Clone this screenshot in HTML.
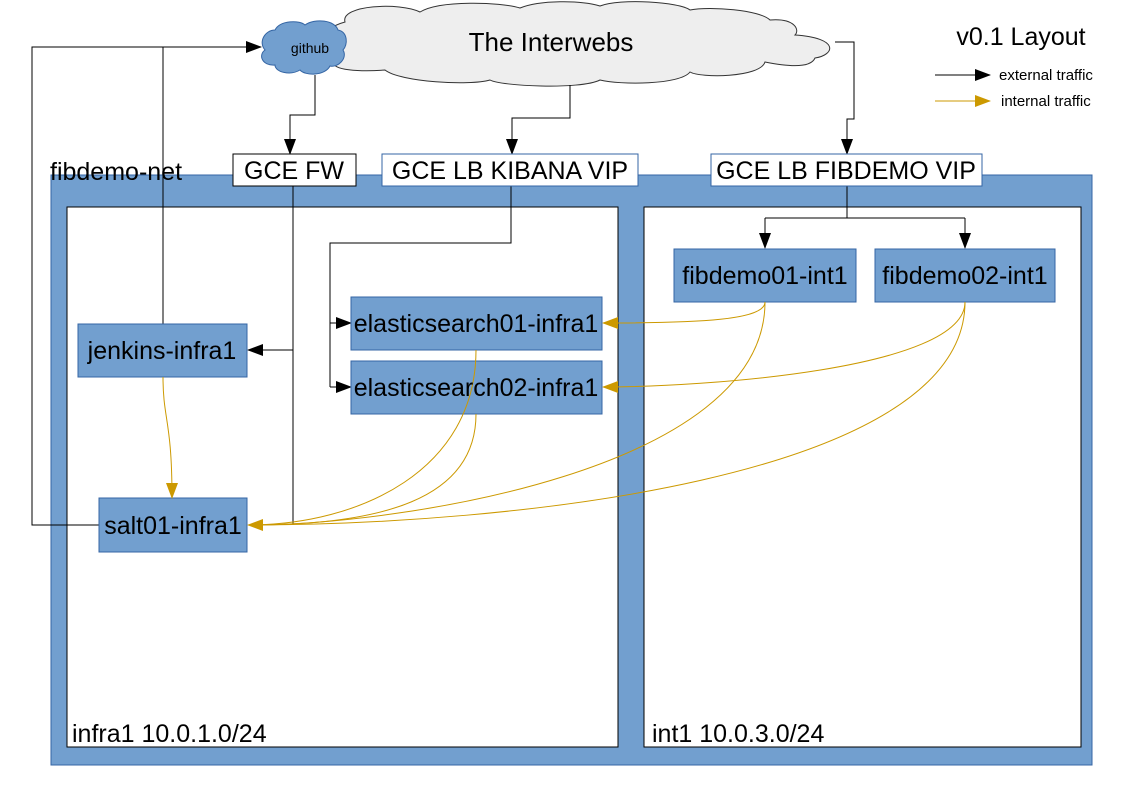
<!DOCTYPE html>
<html><head><style>body{margin:0;background:#fff}svg{display:block;font-family:"Liberation Sans",sans-serif}</style></head><body>
<svg width="1123" height="794" viewBox="0 0 1123 794" xmlns="http://www.w3.org/2000/svg">
<defs>
<marker id="ab" markerWidth="16" markerHeight="12" refX="15" refY="6" orient="auto" markerUnits="userSpaceOnUse" viewBox="0 0 16 12"><path d="M0,0 L16,6 L0,12 z" fill="#000"/></marker>
<marker id="ao" markerWidth="16" markerHeight="12" refX="15" refY="6" orient="auto" markerUnits="userSpaceOnUse" viewBox="0 0 16 12"><path d="M0,0 L16,6 L0,12 z" fill="#cc9900"/></marker>
</defs>
<rect x="51" y="175" width="1041" height="590" fill="#729fcf" stroke="#3465a4" stroke-width="1"/>
<rect x="67" y="207" width="551" height="540" fill="#fff" stroke="#000"/>
<rect x="644" y="207" width="437" height="540" fill="#fff" stroke="#000"/>
<text x="50" y="180" font-size="25">fibdemo-net</text>
<text x="72" y="742" font-size="25">infra1 10.0.1.0/24</text>
<text x="652" y="742" font-size="25">int1 10.0.3.0/24</text>
<path d="M345,22 C340,5 400,2 420,12 C440,0 500,2 520,8 C540,0 580,0 600,6 C620,-2 680,2 690,10 C710,6 760,10 770,20 C795,18 800,30 795,35 C840,38 835,55 815,58 C810,70 780,65 765,62 C760,78 700,78 690,72 C680,85 620,85 600,80 C580,90 500,86 490,80 C470,86 400,82 385,70 C360,72 330,70 335,62 C310,55 315,30 345,22 z" fill="#eeeeee" stroke="#333" stroke-width="1"/>
<text x="551" y="51" font-size="26" text-anchor="middle">The Interwebs</text>
<path d="M275,30 C280,20 300,20 305,25 C315,18 335,20 338,30 C348,32 348,45 343,50 C348,58 338,68 330,66 C325,76 305,76 300,70 C290,76 275,72 275,65 C262,66 258,55 265,50 C258,42 265,30 275,30 z" fill="#729fcf" stroke="#3465a4" stroke-width="1"/>
<text x="310" y="53" font-size="14" text-anchor="middle">github</text>
<text x="1021" y="45" font-size="25" text-anchor="middle">v0.1 Layout</text>
<line x1="935" y1="75" x2="990" y2="75" stroke="#000" marker-end="url(#ab)"/>
<text x="999" y="80" font-size="15">external traffic</text>
<line x1="935" y1="101" x2="990" y2="101" stroke="#cc9900" marker-end="url(#ao)"/>
<text x="1001" y="106" font-size="15">internal traffic</text>
<g fill="none" stroke="#000" stroke-width="1">
<polyline points="99,525 32,525 32,47 261,47" marker-end="url(#ab)"/>
<polyline points="163,324 163,47"/>
<polyline points="315,75 315,115 290,115 290,154" marker-end="url(#ab)"/>
<polyline points="570,85 570,118 512,118 512,154" marker-end="url(#ab)"/>
<polyline points="835,42 854,42 854,119 847,119 847,154" marker-end="url(#ab)"/>
<polyline points="293,186 293,525"/>
<polyline points="293,350 248,350" marker-end="url(#ab)"/>
<polyline points="511,186 511,243 330,243 330,387"/>
<polyline points="330,323 351,323" marker-end="url(#ab)"/>
<polyline points="330,387 351,387" marker-end="url(#ab)"/>
<polyline points="847,186 847,218"/>
<polyline points="765,218 965,218"/>
<polyline points="765,218 765,248" marker-end="url(#ab)"/>
<polyline points="965,218 965,248" marker-end="url(#ab)"/>
</g>
<g stroke-width="1">
<rect x="233" y="154" width="123" height="32" fill="#fff" stroke="#000"/>
<rect x="382" y="154" width="256" height="32" fill="#fff" stroke="#3465a4"/>
<rect x="711" y="154" width="271" height="32" fill="#fff" stroke="#3465a4"/>
<rect x="78" y="324" width="169" height="53" fill="#729fcf" stroke="#3465a4"/>
<rect x="99" y="498" width="148" height="54" fill="#729fcf" stroke="#3465a4"/>
<rect x="351" y="297" width="251" height="53" fill="#729fcf" stroke="#3465a4"/>
<rect x="351" y="361" width="251" height="53" fill="#729fcf" stroke="#3465a4"/>
<rect x="674" y="249" width="182" height="53" fill="#729fcf" stroke="#3465a4"/>
<rect x="875" y="249" width="180" height="53" fill="#729fcf" stroke="#3465a4"/>
</g>
<g fill="none" stroke="#cc9900" stroke-width="1">
<path d="M163,377 C163,420 172,420 172,498" marker-end="url(#ao)"/>
<path d="M765,302 C765,320 700,323 603,323" marker-end="url(#ao)"/>
<path d="M965,302 C965,370 700,387 603,387" marker-end="url(#ao)"/>
<path d="M476,350 C476,470 360,525 248,525" marker-end="url(#ao)"/>
<path d="M476,414 C476,500 380,525 249,525"/>
<path d="M765,302 C765,470 400,525 249,525"/>
<path d="M965,302 C965,480 500,525 249,525"/>
</g>
<g font-size="25" text-anchor="middle">
<text x="294" y="179">GCE FW</text>
<text x="510" y="179">GCE LB KIBANA VIP</text>
<text x="846" y="179">GCE LB FIBDEMO VIP</text>
<text x="162" y="359">jenkins-infra1</text>
<text x="173" y="534">salt01-infra1</text>
<text x="476" y="332">elasticsearch01-infra1</text>
<text x="476" y="396">elasticsearch02-infra1</text>
<text x="765" y="284">fibdemo01-int1</text>
<text x="965" y="284">fibdemo02-int1</text>
</g>
</svg>
</body></html>
